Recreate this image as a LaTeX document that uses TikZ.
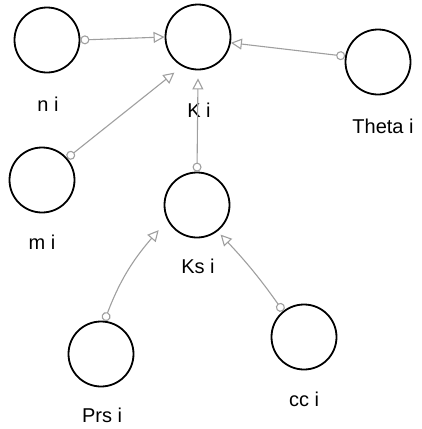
\documentclass[tikz,border=0pt]{standalone}
\usepackage{fontspec}
\setmainfont{Liberation Sans}
\usetikzlibrary{arrows.meta,calc}
\begin{document}
\begin{tikzpicture}[x=1pt,y=-1pt,
  var/.style={circle,draw=black,line width=1.8pt,minimum size=65pt,inner sep=0pt},
  lbl/.style={font=\fontsize{20}{22}\selectfont,inner sep=0pt},
  conn/.style={draw=gray!75,line width=1.1pt,
    {Circle[open,length=9pt,width=9pt]}-{Triangle[open,length=11pt,width=11pt]}}]
\useasboundingbox (0,0) rectangle (421,429);
\node[var] (n) at (47,40) {};
\node[var] (K) at (198,37) {};
\node[var] (Th) at (378,62) {};
\node[var] (m) at (42,180) {};
\node[var] (Ks) at (197,205) {};
\node[var] (Prs) at (101,354) {};
\node[var] (cc) at (304,337) {};
\node[lbl] (ln) at (48,104) {n i};
\node[lbl] (lK) at (199,110) {K i};
\node[lbl] (lTh) at (383,126) {Theta i};
\node[lbl] (lm) at (42,242) {m i};
\node[lbl] (lKs) at (198,266) {Ks i};
\node[lbl] (lPrs) at (102,415) {Prs i};
\node[lbl] (lcc) at (304,399) {cc i};
\draw[conn] (n.east) -- (K.west);
\draw[conn] (Th.170) -- (K.-10);
\draw[conn] (m.41) -- ($(K.225)+(0,12)$);
\draw[conn] (Ks.north) -- ($(K.south)+(0,8)$);
\draw[conn] (Prs.84) to[bend left=10] ($(Ks.215)+(-11,6)$);
\draw[conn] (cc.129) to[bend right=4] ($(Ks.-45)+(0,6)$);
\end{tikzpicture}
\end{document}
